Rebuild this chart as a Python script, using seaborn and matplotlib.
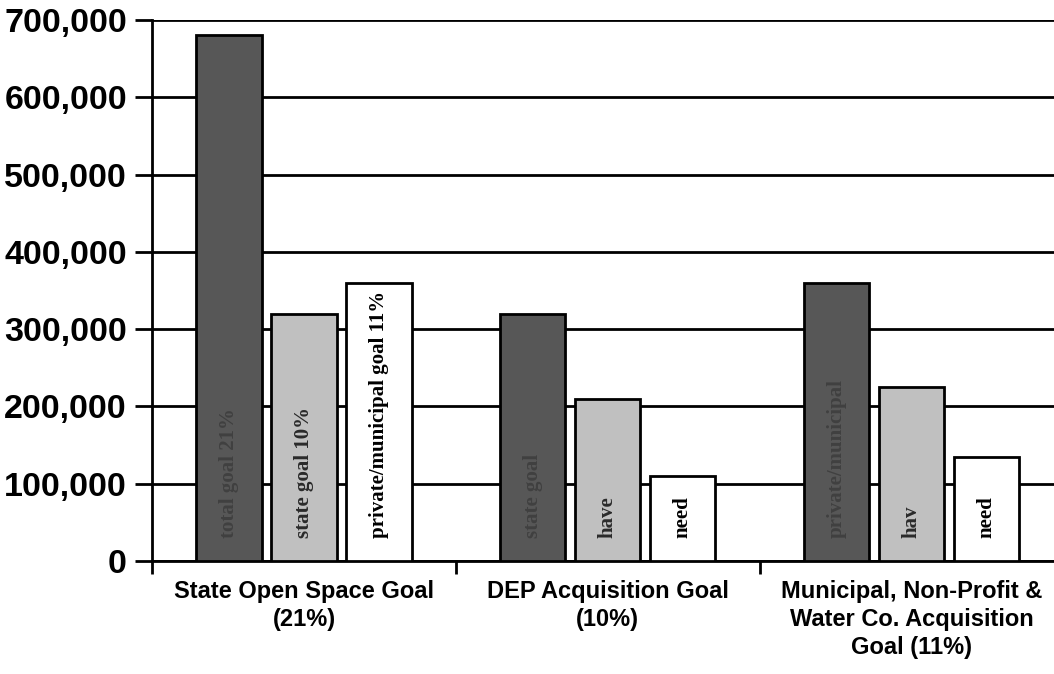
import numpy as np
import pandas as pd
import matplotlib
matplotlib.use("Agg")
import matplotlib.pyplot as plt
import seaborn as sns
from matplotlib.ticker import FuncFormatter, FixedLocator

categories = ["State Open Space Goal\n(21%)",
              "DEP Acquisition Goal\n(10%)",
              "Municipal, Non-Profit &\nWater Co. Acquisition\nGoal (11%)"]
series = ["total", "have", "need"]
total_vals = [680000, 320000, 360000]
have_vals = [320000, 210000, 225000]
need_vals = [360000, 110000, 135000]
bar_labels_total = ["total goal 21%", "state goal", "private/municipal"]
bar_labels_have = ["state goal 10%", "have", "hav"]
bar_labels_need = ["private/municipal goal 11%", "need", "need"]
yticks = [0, 100000, 200000, 300000, 400000, 500000, 600000, 700000]

df = pd.DataFrame({
    "category": categories * 3,
    "series": [series[0]] * 3 + [series[1]] * 3 + [series[2]] * 3,
    "value": total_vals + have_vals + need_vals,
    "label": bar_labels_total + bar_labels_have + bar_labels_need,
})

sns.set_style("white")
plt.rcParams["font.family"] = ["Liberation Sans", "DejaVu Sans"]
plt.rcParams["text.color"] = "black"
plt.rcParams["xtick.color"] = "black"
plt.rcParams["ytick.color"] = "black"

fig = plt.figure(figsize=(10.54, 6.74), dpi=100)
ax = fig.add_axes([0.1442, 0.1677, 0.865, 0.8027])

palette = {"total": "#575757", "have": "#c0c0c0", "need": "#ffffff"}
sns.barplot(data=df, x="category", y="value", hue="series", order=categories,
            hue_order=series, palette=palette, width=0.74, gap=0.13,
            edgecolor="black", linewidth=2, saturation=1, legend=False, ax=ax,
            zorder=3)

# gridlines
ax.set_axisbelow(True)
ax.yaxis.grid(True, color="black", linewidth=2)
ax.xaxis.grid(False)

ax.set_ylim(0, 700000)
ax.set_xlim(-0.5, 2.5)
ax.yaxis.set_major_locator(FixedLocator(yticks))
ax.yaxis.set_major_formatter(FuncFormatter(lambda v, p: f"{int(v):,}"))
ax.tick_params(axis="y", which="major", length=12, width=2, colors="black",
               pad=6, labelsize=24.5, direction="out", left=True)
for t in ax.get_yticklabels():
    t.set_fontweight("bold")

ax.set_xticks(range(3))
ax.set_xticklabels(categories, fontsize=17, fontweight="bold", linespacing=1.28,
                   va="top")
ax.tick_params(axis="x", which="major", length=0, pad=14, colors="black")
ax.set_xticks([-0.5, 0.5, 1.5, 2.5], minor=True)
ax.tick_params(axis="x", which="minor", length=9, width=2, color="black",
               direction="out", bottom=True)

ax.set_xlabel("")
ax.set_ylabel("")
for s in ["top", "right"]:
    ax.spines[s].set_visible(False)
for s in ["left", "bottom"]:
    ax.spines[s].set_color("black")
    ax.spines[s].set_linewidth(2)

# labels inside bars
text_colors = {"total": "#404040", "have": "#2a2a2a", "need": "black"}
for cont, ser in zip(ax.containers, series):
    sub = df[df["series"] == ser].set_index("category").loc[categories]
    for bar, lab in zip(cont, sub["label"]):
        cx = bar.get_x() + bar.get_width() / 2
        ax.text(cx, 30000, lab, rotation=90, ha="center", va="bottom",
                fontsize=15, fontweight="bold", color=text_colors[ser],
                family=["Liberation Serif", "DejaVu Serif"], zorder=5)

fig.savefig("out.png", dpi=100)
